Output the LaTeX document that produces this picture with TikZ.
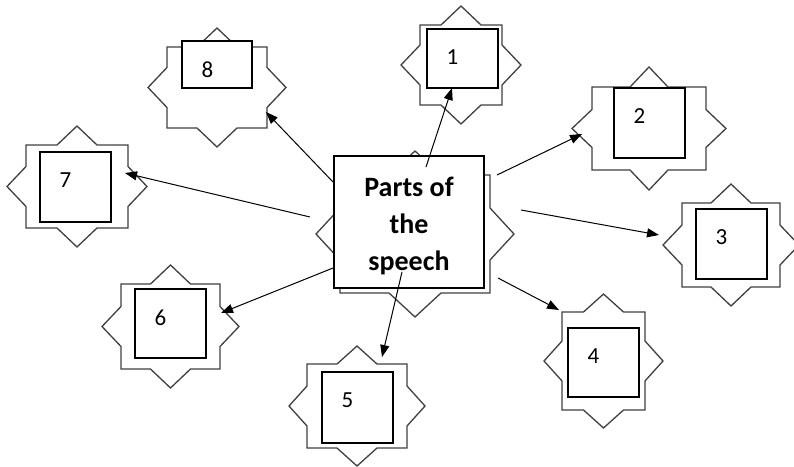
\documentclass[tikz,border=0pt]{standalone}
\usepackage{fontspec}
\setmainfont{Carlito}
\usetikzlibrary{arrows.meta}
\tikzset{
  starline/.style={draw=black!75,line width=1.3pt,fill=white},
  pics/wordstar/.style n args={4}{code={
    \draw[starline] (-#1,-#2) -- (-#4,-#2) -- (0,-#2-#3) -- (#4,-#2) -- (#1,-#2)
      -- (#1,-#4) -- (#1+#3,0) -- (#1,#4) -- (#1,#2) -- (#4,#2) -- (0,#2+#3)
      -- (-#4,#2) -- (-#1,#2) -- (-#1,#4) -- (-#1-#3,0) -- (-#1,-#4) -- cycle;
  }},
  inbox/.style={draw,line width=1.2pt,fill=white,minimum width=71pt,minimum height=#1,inner sep=0pt},
  num/.style={inner sep=0pt,font=\fontsize{23}{23}\selectfont},
  mainbox/.style={draw,line width=1.2pt,fill=white,minimum width=150pt,minimum height=132pt,
    align=center,inner sep=0pt,font=\bfseries\fontsize{28}{37}\selectfont},
  arr/.style={line width=1pt,-{Triangle[length=12pt,width=9pt]}}
}
\begin{document}
\begin{tikzpicture}[x=1pt,y=-1pt]
\useasboundingbox (0,0) rectangle (794,466);
% stars
\pic at (461,65) {wordstar={41}{40}{19}{20}};
\pic at (649,128.5) {wordstar={57}{41.5}{20}{19}};
\pic at (731,245) {wordstar={49}{42}{19}{20}};
\pic at (603.5,361) {wordstar={41.5}{49}{18}{20}};
\pic at (357,406) {wordstar={50}{42}{18}{20}};
\pic at (170.5,326.5) {wordstar={49.5}{42.5}{19}{20}};
\pic at (77,186.5) {wordstar={51}{41.5}{19}{20}};
\pic at (217,87.5) {wordstar={50}{40.5}{19}{20}};
\pic at (415,234) {wordstar={75}{59}{24}{26}};
% boxes
\node[inbox=59pt] (n1) at (462.5,58.5) {};
\node[inbox=70pt] (n2) at (649.5,123) {};
\node[inbox=70pt] (n3) at (731.5,244) {};
\node[inbox=69pt] (n4) at (603.5,362.5) {};
\node[inbox=71pt] (n5) at (357.5,407.5) {};
\node[inbox=69pt] (n6) at (170.5,323.5) {};
\node[inbox=70pt] (n7) at (75.5,187) {};
\node[inbox=47pt,minimum width=70pt] (n8) at (217,64.5) {};
\foreach \i in {1,...,8}
  \node[num] (l\i) at ([shift={(26,29)}]n\i.north west) {\i};
\node[mainbox] (speech) at (409,222) {};
\node[inner sep=0pt,align=center,font=\bfseries\fontsize{28}{37}\selectfont] (title) at (409,226) {Parts of\\the\\speech};
% arrows
\coordinate (o1) at (426,167); \coordinate (e1) at (452,88);
\coordinate (o2) at (497,175); \coordinate (e2) at (582,134);
\coordinate (o3) at (521,210); \coordinate (e3) at (659,235);
\coordinate (o4) at (498,278); \coordinate (e4) at (559,310);
\coordinate (o5) at (402,272); \coordinate (e5) at (382,357);
\coordinate (o6) at (333,268); \coordinate (e6) at (221,313);
\coordinate (o7) at (310,217); \coordinate (e7) at (125,173);
\coordinate (o8) at (333,182); \coordinate (e8) at (266,112);
\foreach \i in {1,...,8}
  \draw[arr] (o\i) -- (e\i);
\end{tikzpicture}
\end{document}
